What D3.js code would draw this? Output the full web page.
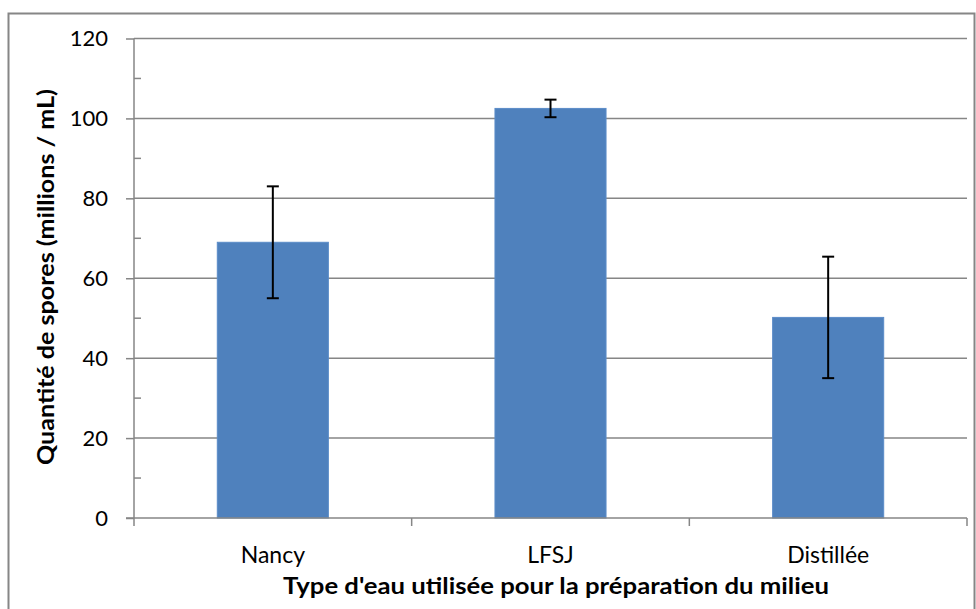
<!DOCTYPE html>
<html><head><meta charset="utf-8">
<script src="https://cdn.jsdelivr.net/npm/d3@7"></script>
<style>body{margin:0;background:#fff;}svg{display:block;font-family:Lato,"Open Sans",sans-serif;}</style>
</head><body>
<svg id="c" width="976" height="609"></svg>
<script>
const categories = ["Nancy", "LFSJ", "Distillée"];
const values = [69, 102.5, 50.2];
const errors = [14, 2.2, 15.2];
const yTicks = [0, 20, 40, 60, 80, 100, 120];
const yMinorTicks = [10, 30, 50, 70, 90, 110];
const xTitle = "Type d'eau utilisée pour la préparation du milieu";
const yTitle = "Quantité de spores (millions / mL)";

(function () {
const svg = d3.select("#c");
const pLeft = 134, pRight = 967, pTop = 38.5, pBottom = 518;
svg.append("rect").attr("x", 8.5).attr("y", 13.5).attr("width", 966).attr("height", 620)
  .attr("fill", "#fff").attr("stroke", "#868686").attr("stroke-width", 2);

const x = d3.scaleBand().domain(categories).range([pLeft, pRight]).paddingInner(0.6).paddingOuter(0.3);
const y = d3.scaleLinear().domain([0, 120]).range([pBottom, pTop]);
const gridColor = "#868686";

svg.append("g").selectAll("line").data(yTicks.filter(d => d > 0)).join("line")
  .attr("x1", pLeft).attr("x2", pRight).attr("y1", d => y(d)).attr("y2", d => y(d))
  .attr("stroke", gridColor).attr("stroke-width", 1.5);

svg.append("g").selectAll("rect").data(categories).join("rect")
  .attr("x", d => x(d)).attr("width", x.bandwidth())
  .attr("y", (d, i) => y(values[i])).attr("height", (d, i) => y(0) - y(values[i]))
  .attr("fill", "#4F81BD").attr("stroke", "#5B8CC8").attr("stroke-width", 1);

const eg = svg.append("g").attr("stroke", "#000").attr("stroke-width", 2);
categories.forEach((c, i) => {
  const cx = x(c) + x.bandwidth() / 2;
  const hi = y(values[i] + errors[i]), lo = y(values[i] - errors[i]);
  eg.append("line").attr("x1", cx).attr("x2", cx).attr("y1", hi).attr("y2", lo);
  eg.append("line").attr("x1", cx - 6).attr("x2", cx + 6).attr("y1", hi).attr("y2", hi);
  eg.append("line").attr("x1", cx - 6).attr("x2", cx + 6).attr("y1", lo).attr("y2", lo);
});

const ya = svg.append("g").attr("transform", `translate(${pLeft},0)`)
  .call(d3.axisLeft(y).tickValues(yTicks).tickSize(8).tickPadding(18).tickFormat(d3.format("d")));
ya.select(".domain").attr("stroke", gridColor).attr("stroke-width", 1.5).attr("d", `M0,${pBottom}V${pTop}`);
ya.selectAll(".tick line").attr("stroke", gridColor).attr("stroke-width", 1.5);
ya.selectAll(".tick text").attr("font-size", 22).attr("fill", "#000").attr("font-family", "Lato");
svg.append("g").selectAll("line").data(yMinorTicks).join("line")
  .attr("x1", pLeft).attr("x2", pLeft + 7).attr("y1", d => y(d)).attr("y2", d => y(d))
  .attr("stroke", gridColor).attr("stroke-width", 1.5);

const xa = svg.append("g").attr("transform", `translate(0,${pBottom})`)
  .call(d3.axisBottom(x).tickSize(0).tickPadding(0));
xa.select(".domain").remove();
xa.selectAll(".tick text").attr("dy", null).attr("y", 45).attr("font-size", 23).attr("fill", "#000").attr("font-family", "Lato");
svg.append("line").attr("x1", pLeft - 8).attr("x2", pRight).attr("y1", pBottom).attr("y2", pBottom)
  .attr("stroke", gridColor).attr("stroke-width", 1.5);
const step = x.step();
const bounds = d3.range(categories.length + 1).map(i => pLeft + i * step);
svg.append("g").selectAll("line").data(bounds).join("line")
  .attr("x1", d => d).attr("x2", d => d).attr("y1", pBottom).attr("y2", pBottom + 8)
  .attr("stroke", gridColor).attr("stroke-width", 1.5);

svg.append("text").attr("x", 556).attr("y", 594).attr("text-anchor", "middle")
  .attr("font-size", 23).attr("font-weight", "bold").attr("fill", "#000")
  .attr("textLength", 546).attr("lengthAdjust", "spacingAndGlyphs").text(xTitle);
svg.append("text").attr("transform", `translate(54,277) rotate(-90)`)
  .attr("text-anchor", "middle").attr("font-size", 23).attr("font-weight", "bold").attr("fill", "#000")
  .attr("textLength", 376).attr("lengthAdjust", "spacingAndGlyphs").text(yTitle);
})();
</script>
</body></html>
